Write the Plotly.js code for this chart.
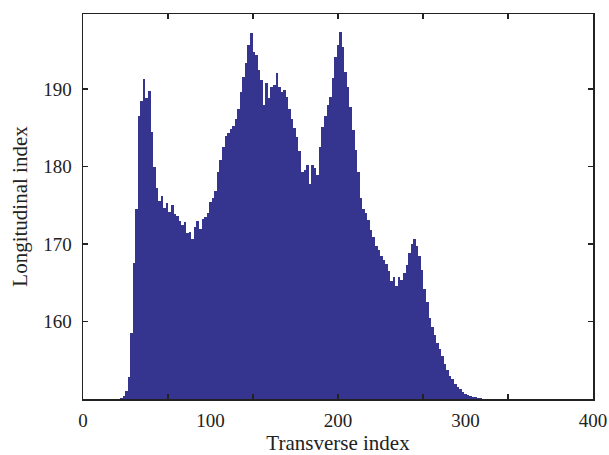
<!DOCTYPE html>
<html>
<head>
<meta charset="utf-8">
<script src="https://cdn.plot.ly/plotly-3.0.1.min.js"></script>
<style>html,body{margin:0;padding:0;background:#fff;}#chart{width:609px;height:455px;}</style>
</head>
<body>
<div id="chart"></div>
<script>
// Transverse index (bin positions, step 2)
const transverse = [
  30,32,34,36,38,40,42,44,46,48,50,52,54,56,58,60,62,64,66,68,
  70,72,74,76,78,80,82,84,86,88,90,92,94,96,98,100,102,104,106,108,
  110,112,114,116,118,120,122,124,126,128,130,132,134,136,138,140,142,144,146,148,
  150,152,154,156,158,160,162,164,166,168,170,172,174,176,178,180,182,184,186,188,
  190,192,194,196,198,200,202,204,206,208,210,212,214,216,218,220,222,224,226,228,
  230,232,234,236,238,240,242,244,246,248,250,252,254,256,258,260,262,264,266,268,
  270,272,274,276,278,280,282,284,286,288,290,292,294,296,298,300,302,304,306,308,
  310,312,314
];
// Longitudinal index values
const longitudinal = [
  150.1,150.4,151.0,152.8,158.5,167.5,174.5,186.5,188.5,191.3,188.8,189.7,184.5,180.0,177.3,175.5,176.2,174.6,175.3,174.2,
  175.0,173.9,173.6,173.0,172.4,172.8,171.4,171.6,170.7,172.2,173.0,171.9,173.3,173.5,174.0,175.4,175.9,176.9,179.3,180.8,
  182.5,184.0,184.3,184.8,185.3,186.2,187.5,189.6,191.6,193.4,195.7,197.2,194.8,194.4,192.5,191.2,187.9,190.8,188.8,190.3,
  190.5,192.1,190.3,189.6,189.9,189.0,187.5,186.2,185.0,183.8,182.0,179.3,179.5,180.2,177.8,180.2,179.8,178.9,182.5,185.1,
  186.5,187.9,189.0,191.4,194.2,195.7,197.4,195.4,192.2,190.3,187.7,184.7,182.1,179.3,176.0,174.5,174.0,173.1,171.8,170.9,
  169.8,169.2,168.5,168.0,167.4,166.5,165.2,165.7,164.6,165.8,165.4,166.3,167.3,168.8,170.0,170.6,169.8,168.5,166.6,164.2,
  162.5,160.4,159.3,158.2,157.2,156.5,155.6,154.5,153.7,153.0,152.6,152.0,151.6,151.3,150.9,150.6,150.5,150.4,150.3,150.2,
  150.15,150.1,150.05
];
const xLabelVals = [0,100,200,300,400];
const xTickVals = [0,400/6,800/6,200,1600/6,2000/6,400];
const yTickVals = [160,170,180,190];

const fam = '"Liberation Serif", "DejaVu Serif", serif';
const tickFont = {family: fam, size: 19, color: '#222'};
const titleFont = {family: fam, size: 21, color: '#222'};

const traces = [
  {
    type: 'bar',
    x: transverse,
    y: longitudinal,
    width: 2,
    marker: {color: '#35348f', line: {width: 0}},
    hoverinfo: 'skip'
  },
  {type: 'scatter', x: [], y: [], xaxis: 'x2', yaxis: 'y', showlegend: false}
];

const layout = {
  width: 609, height: 455,
  margin: {l: 83, r: 16, t: 14, b: 56},
  paper_bgcolor: '#fff', plot_bgcolor: '#fff',
  showlegend: false,
  bargap: 0,
  font: tickFont,
  xaxis: {
    range: [0, 400], automargin: false,
    tickmode: 'array', tickvals: xLabelVals, ticktext: xLabelVals.map(String),
    ticks: '', showgrid: false, zeroline: false,
    showline: true, linecolor: '#222', linewidth: 1.5, mirror: true,
    tickfont: tickFont, ticklabelstandoff: 4,
    title: {text: 'Transverse index', font: titleFont, standoff: 2}
  },
  xaxis2: {
    overlaying: 'x', matches: 'x', side: 'top', range: [0, 400],
    tickmode: 'array', tickvals: xTickVals,
    ticks: 'inside', ticklen: 5, tickwidth: 1.5, tickcolor: '#222',
    showticklabels: false, showgrid: false, zeroline: false, showline: false,
    mirror: 'ticks'
  },
  yaxis: {
    range: [150, 199.7], automargin: false,
    tickmode: 'array', tickvals: yTickVals,
    ticks: 'inside', ticklen: 5, tickwidth: 1.5, tickcolor: '#222',
    showgrid: false, zeroline: false,
    showline: true, linecolor: '#222', linewidth: 1.5, mirror: 'ticks',
    tickfont: tickFont, ticklabelstandoff: 6,
    title: {text: 'Longitudinal index', font: titleFont, standoff: 10}
  }
};

Plotly.newPlot('chart', traces, layout, {staticPlot: true, displayModeBar: false});
</script>
</body>
</html>
